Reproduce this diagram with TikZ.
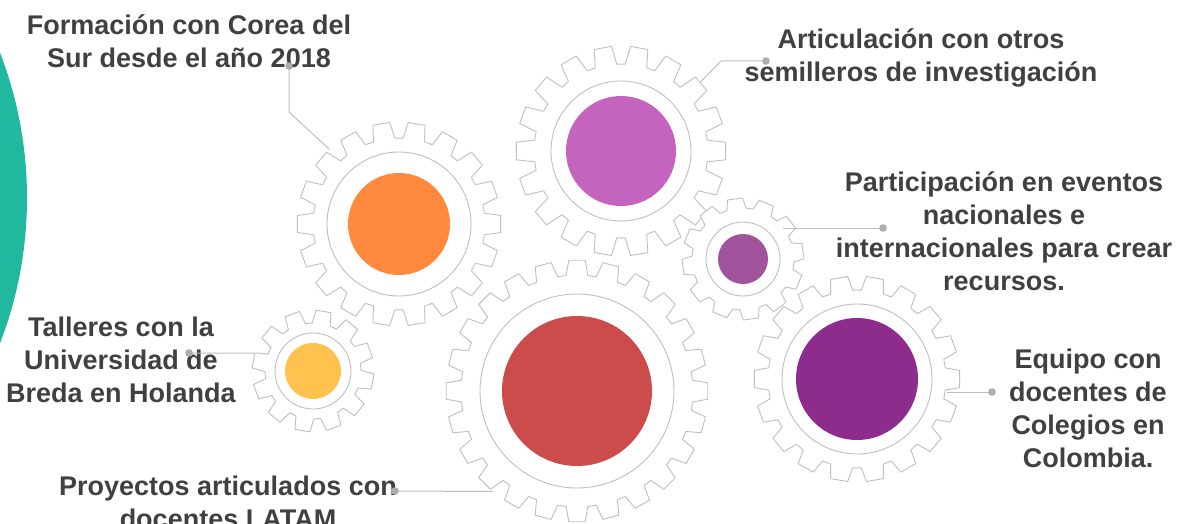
\documentclass[tikz,border=0pt]{standalone}
\usepackage{fontspec}
\setmainfont{Liberation Sans}
\usepackage{tikz}

\definecolor{txtgray}{HTML}{404040}
\definecolor{linegray}{HTML}{BFBFBF}
\definecolor{dotgray}{HTML}{ADADAD}
\definecolor{tealfill}{HTML}{20B99F}
\definecolor{orangefill}{HTML}{FF8A3D}
\definecolor{magentafill}{HTML}{C464BE}
\definecolor{mauvefill}{HTML}{A0539B}
\definecolor{purplefill}{HTML}{8E2C8D}
\definecolor{redfill}{HTML}{CC4B4B}
\definecolor{yellowfill}{HTML}{FFC24F}

% gear outline: center node, teeth, tip radius, root radius, turn
\newcommand{\drawgear}[5]{%
  \pgfmathsetmacro{\gstep}{360/#2}
  \begin{scope}[shift={(#1.center)}]
    \filldraw[gear line] ({#5-0.36*\gstep}:#4)
      \foreach \k in {1,...,#2} {
        -- ({#5+(\k-1)*\gstep-0.24*\gstep}:#3)
        -- ({#5+(\k-1)*\gstep+0.24*\gstep}:#3)
        -- ({#5+(\k-1)*\gstep+0.36*\gstep}:#4)
        -- ({#5+\k*\gstep-0.36*\gstep}:#4)
      } -- cycle;
  \end{scope}}

\begin{document}
\begin{tikzpicture}[x=1pt,y=-1pt,
    gear node/.style={circle,inner sep=0pt,draw=none},
    gear line/.style={draw=linegray,fill=white,line width=0.9pt,line join=round},
    ring line/.style={draw=linegray,line width=0.9pt},
    conn/.style={draw=linegray,line width=1pt},
    info node/.style={font=\bfseries\fontsize{27}{33}\selectfont,text=txtgray,
                      align=center,inner sep=0pt}]

  \useasboundingbox (0,0) rectangle (1178,524);
  \clip (0,0) rectangle (1178,524);

  % teal edge on the left
  \begin{scope}
    \clip (0,0) rectangle (40,524);
    \fill[tealfill] (-376,198) circle (403);
  \end{scope}

  % gear centres
  \node[gear node,minimum size=122pt] (yellow) at (313,371) {};
  \node[gear node,minimum size=204pt] (orange) at (399,224) {};
  \node[gear node,minimum size=210pt] (magenta) at (621,151) {};
  \node[gear node,minimum size=262pt] (red) at (577,391) {};
  \node[gear node,minimum size=122pt] (mauve) at (743,259) {};
  \node[gear node,minimum size=206pt] (purple) at (857,379) {};

  % gears
  \drawgear{yellow}{12}{61}{48}{10}
  \draw[ring line] (yellow) circle (38);
  \fill[yellowfill] (yellow) circle (28);

  \drawgear{orange}{18}{102}{86}{0}
  \draw[ring line] (orange) circle (72);
  \fill[orangefill] (orange) circle (51);

  \drawgear{red}{24}{131}{116}{0}
  \draw[ring line] (red) circle (97);
  \fill[redfill] (red) circle (75);

  \drawgear{magenta}{18}{105}{87}{0}
  \draw[ring line] (magenta) circle (70);
  \fill[magentafill] (magenta) circle (55);

  \drawgear{mauve}{12}{61}{51}{-7.5}
  \draw[ring line] (mauve) circle (37);
  \fill[mauvefill] (mauve) circle (25);

  \drawgear{purple}{18}{103}{89}{0}
  \draw[ring line] (purple) circle (75);
  \fill[purplefill] (purple) circle (61);

  % texts
  \node[info node] (formacion) at (189,41) {Formación con Corea del\\Sur desde el año 2018};
  \node[info node] (articulacion) at (921,58) {Articulación con otros\\semilleros de investigación};
  \node[info node] (participacion) at (1004,231) {Participación en eventos\\nacionales e\\internacionales para crear\\recursos.};
  \node[info node] (talleres) at (121,360) {Talleres con la\\Universidad de\\Breda en Holanda};
  \node[info node] (proyectos) at (228,502) {Proyectos articulados con\\docentes LATAM};
  \node[info node] (equipo) at (1088,408) {Equipo con\\docentes de\\Colegios en\\Colombia.};

  % connectors
  \coordinate (formdot) at (289,66);
  \coordinate (formbend) at (289,112);
  \coordinate (artdot) at (766,61);
  \coordinate (artbend) at (721,61);
  \coordinate (partdot) at (883,228);
  \coordinate (partend) at ([shift={(40,-31)}]mauve.center);
  \coordinate (talldot) at (189,353);
  \coordinate (proydot) at (395,491);
  \coordinate (equidot) at (992,392);
  \coordinate (equiend) at ([shift={(90,13)}]purple.center);

  \draw[conn] (formdot) -- (formbend) -- (orange.133.5);
  \draw[conn] (artdot) -- (artbend) -- (magenta.41.5);
  \draw[conn] (partdot) -- (partend);
  \draw[conn] (talldot) -- (yellow.163.6);
  \draw[conn] (proydot) -- (red.230.3);
  \draw[conn] (equidot) -- (equiend);

  \foreach \d in {formdot,artdot,partdot,talldot,proydot,equidot}
    \fill[dotgray] (\d) circle (3.8);
\end{tikzpicture}
\end{document}
